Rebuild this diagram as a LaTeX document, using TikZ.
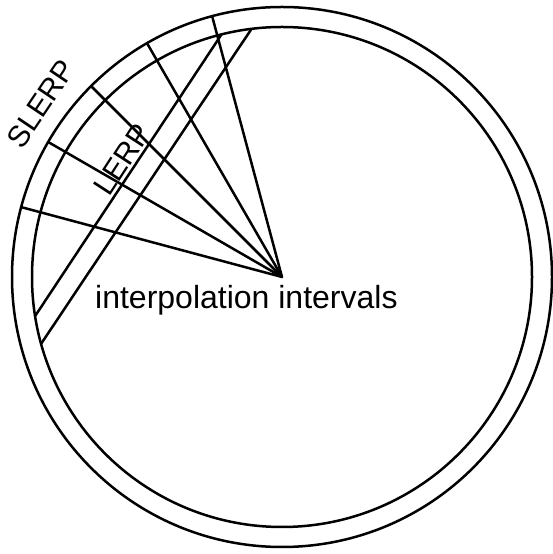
\documentclass[tikz,border=0pt]{standalone}
\usepackage{fontspec}
\setmainfont{Liberation Sans}
\usetikzlibrary{positioning,calc}
\tikzset{
  ring/.style={line width=2.5pt, draw=black},
  spoke/.style={line width=2.5pt, draw=black, line cap=round},
  chord/.style={line width=2.5pt, draw=black},
  tag/.style={font=\fontsize{30}{36}\selectfont, inner sep=0pt},
  caption/.style={font=\fontsize{32}{38}\selectfont, inner sep=0pt}
}

\begin{document}
\begin{tikzpicture}[x=1pt, y=1pt]
    \useasboundingbox (0,0) rectangle (552,554);
    \coordinate (hub) at (282,277);

    % interval ends on the outer ring
    \coordinate (s1) at ($(hub)+(105:270)$);
    \coordinate (s2) at ($(hub)+(120:270)$);
    \coordinate (s3) at ($(hub)+(135:270)$);
    \coordinate (s4) at ($(hub)+(150:270)$);
    \coordinate (s5) at ($(hub)+(165:270)$);

    % chord ends on the inner ring
    \coordinate (la) at ($(hub)+(104:250)$);
    \coordinate (lb) at ($(hub)+(189:250)$);
    \coordinate (ma) at ($(hub)+(97:250)$);
    \coordinate (mb) at ($(hub)+(195.5:250)$);

    \draw[spoke] (hub) -- (s1);
    \draw[spoke] (hub) -- (s2);
    \draw[spoke] (hub) -- (s3);
    \draw[spoke] (hub) -- (s4);
    \draw[spoke] (hub) -- (s5);

    \draw[chord] (la) -- (lb);
    \draw[chord] (ma) -- (mb);

    \draw[ring] (hub) circle (270);
    \draw[ring] (hub) circle (250);

    \node[tag, rotate=56] (slerp) at (41,450.5) {SLERP};
    \node[tag, rotate=57] (lerp) at (122.5,394.5) {LERP};
    \node[caption, anchor=base west] (intervals) at (95,245) {interpolation intervals};
\end{tikzpicture}
\end{document}
